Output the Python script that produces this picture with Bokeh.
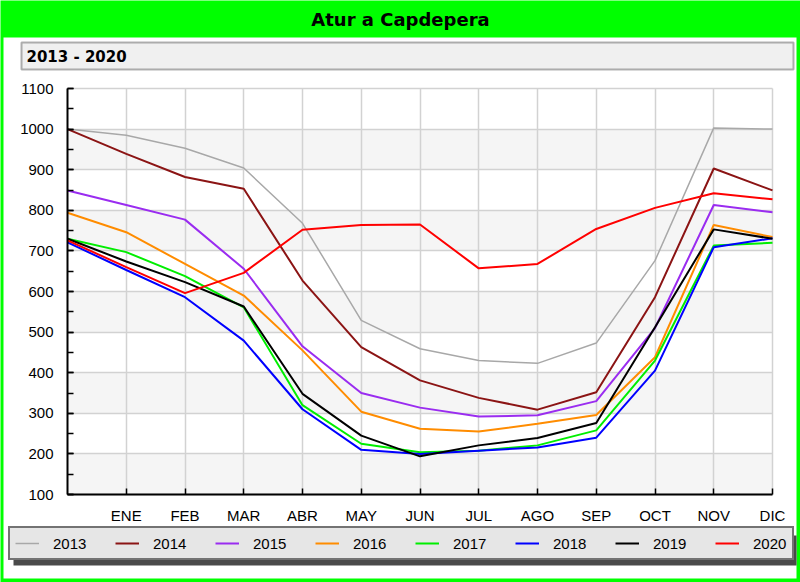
from bokeh.plotting import figure
from bokeh.models import (Range1d, FixedTicker, SingleIntervalTicker, Legend,
                          LegendItem, Label, BoxAnnotation)
from bokeh.embed import file_html
from bokeh.resources import INLINE

# ---- data ----
months = ["", "ENE", "FEB", "MAR", "ABR", "MAY", "JUN", "JUL", "AGO", "SEP", "OCT", "NOV", "DIC"]
years = ["2013", "2014", "2015", "2016", "2017", "2018", "2019", "2020"]
v2013 = [1000, 985, 953, 904, 768, 529, 459, 430, 423, 473, 676, 1003, 1000]
v2014 = [1000, 939, 882, 853, 627, 463, 381, 338, 309, 352, 586, 903, 849]
v2015 = [849, 813, 777, 656, 465, 350, 314, 292, 295, 330, 510, 813, 795]
v2016 = [794, 746, 668, 590, 455, 304, 262, 255, 274, 296, 438, 764, 734]
v2017 = [730, 697, 638, 561, 320, 225, 204, 208, 221, 258, 430, 713, 720]
v2018 = [721, 653, 586, 479, 310, 210, 200, 208, 216, 240, 405, 709, 731]
v2019 = [730, 674, 623, 563, 348, 245, 194, 221, 239, 276, 512, 753, 730]
v2020 = [726, 660, 596, 646, 752, 764, 765, 657, 668, 754, 806, 842, 827]
series = [v2013, v2014, v2015, v2016, v2017, v2018, v2019, v2020]
colors = ["#a8a8a8", "#8b1414", "#9a2cf0", "#ff8c00", "#00ee00", "#0000ff", "#000000", "#ff0000"]
widths = [1.5, 2, 2, 2, 2, 2, 2, 2]
y_ticks = list(range(100, 1101, 100))
xs = list(range(len(months)))

# ---- layout geometry (canvas pixels) ----
W, H = 800, 582
FL, FR, FT, FB = 67, 772, 88, 494          # plot area edges
x0, x1 = xs[0], xs[-1]
y0, y1 = y_ticks[0], y_ticks[-1]
sx = (FR - FL) / (x1 - x0)
sy = (FB - FT) / (y1 - y0)
def dx(px):
    return x0 + (px - FL) / sx
def dy(py):
    return y0 + (FB - py) / sy

p = figure(width=W, height=H, output_backend="svg", toolbar_location=None, title=None,
           x_range=Range1d(dx(0), dx(W)), y_range=Range1d(dy(H), dy(0)),
           min_border=0)
p.background_fill_color = "#00ff00"
p.border_fill_color = "#00ff00"
p.outline_line_color = None

# axes (fixed inside the full-canvas frame)
p.xaxis.fixed_location = y0
p.xaxis.bounds = (x0, x1)
p.xaxis.ticker = FixedTicker(ticks=xs[1:])
p.xaxis.major_label_overrides = {i: m for i, m in enumerate(months) if m}
p.xaxis.major_label_text_font = "Liberation Sans Narrow, Liberation Sans"
p.xaxis.major_label_text_font_size = "15px"
p.xaxis.major_label_text_color = "black"
p.xaxis.major_label_standoff = 12
p.xaxis.axis_line_width = 2
p.xaxis.axis_line_color = "black"
p.xaxis.major_tick_in = 6
p.xaxis.major_tick_out = 0
p.xaxis.major_tick_line_width = 1.5
p.xaxis.minor_tick_line_color = None

p.yaxis.fixed_location = x0
p.yaxis.bounds = (y0, y1)
p.yaxis.ticker = SingleIntervalTicker(interval=100, num_minor_ticks=2)
p.yaxis.major_label_text_font = "Liberation Sans"
p.yaxis.major_label_text_font_size = "15px"
p.yaxis.major_label_text_color = "black"
p.yaxis.major_label_standoff = 14
p.yaxis.axis_line_width = 2
p.yaxis.axis_line_color = "black"
p.yaxis.major_tick_in = 6
p.yaxis.major_tick_out = 0
p.yaxis.minor_tick_in = 6
p.yaxis.minor_tick_out = 0
p.yaxis.major_tick_line_width = 1.5
p.yaxis.minor_tick_line_width = 1.5

# grids
p.xgrid.ticker = FixedTicker(ticks=xs[1:])
p.xgrid.bounds = (x0, x1)
p.xgrid.cross_bounds = (y0, y1)
p.xgrid.grid_line_color = "#d2d2d2"
p.xgrid.grid_line_width = 1.5
p.ygrid.ticker = FixedTicker(ticks=y_ticks)
p.ygrid.bounds = (y0, y1)
p.ygrid.cross_bounds = (x0, x1)
p.ygrid.grid_line_color = "#d2d2d2"
p.ygrid.grid_line_width = 1.5

# page panel (white card on green) and alternating plot bands, drawn beneath the grid
under = [BoxAnnotation(left=dx(3), right=dx(796), top=dy(37), bottom=dy(578),
                       fill_color="white", fill_alpha=1, line_color=None, level="underlay")]
for lo, hi in zip(y_ticks[0::2], y_ticks[1::2]):
    under.append(BoxAnnotation(left=x0, right=x1, bottom=lo, top=hi,
                               fill_color="#f5f5f5", fill_alpha=1, line_color=None,
                               level="underlay"))
p.center = under + list(p.center)

# lines
items = []
for yr, vals, c, w in zip(years, series, colors, widths):
    r = p.line(x=xs, y=vals, line_color=c, line_width=w)
    items.append(LegendItem(label=yr, renderers=[r]))

# header: title on green band + subtitle box
title = Label(x=dx(400), y=dy(19), text="Atur a Capdepera",
              text_font="DejaVu Sans", text_font_style="bold", text_font_size="18px",
              text_align="center", text_baseline="middle", text_color="black")
p.add_layout(title)
subbox = BoxAnnotation(left=dx(21), right=dx(793), top=dy(42), bottom=dy(69),
                       fill_color="#f0f0f0", fill_alpha=1, line_color="black", line_width=2,
                       level="underlay")
p.add_layout(subbox)
sub = Label(x=dx(26), y=dy(56), text="2013 - 2020",
            text_font="DejaVu Sans", text_font_style="bold", text_font_size="15px",
            text_align="left", text_baseline="middle", text_color="black")
p.add_layout(sub)

# legend with drop shadow
shadow = BoxAnnotation(left=dx(13), right=dx(796), top=dy(535), bottom=dy(565),
                       fill_color="#4a4a4a", fill_alpha=1, line_color=None, level="underlay")
p.add_layout(shadow)
legend = Legend(items=items, location=(8, H - 560), orientation="horizontal",
                padding=5, spacing=28, glyph_width=24, glyph_height=20,
                label_width=34, label_height=20, label_standoff=14,
                label_text_font="Liberation Sans", label_text_font_size="15px",
                label_text_color="black",
                background_fill_color="#e6e6e6", background_fill_alpha=1,
                border_line_color="black", border_line_width=2, margin=0)
p.add_layout(legend)

open("out.html", "w").write(file_html(p, INLINE))
